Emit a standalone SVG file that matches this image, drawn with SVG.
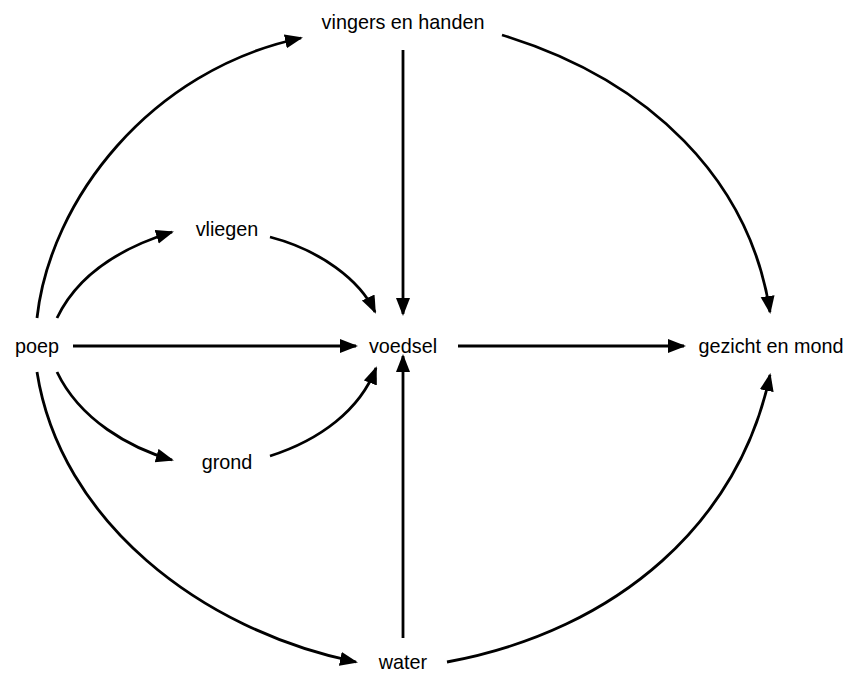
<svg xmlns="http://www.w3.org/2000/svg" width="849" height="674" viewBox="0 0 849 674">
<style>
text{font-family:"Liberation Sans",Arial,sans-serif;font-size:19.8px;fill:#000;text-anchor:middle;dominant-baseline:central}
.e{fill:none;stroke:#000;stroke-width:2.8;marker-end:url(#ah)}
</style>
<defs>
<marker id="ah" markerUnits="userSpaceOnUse" markerWidth="20" markerHeight="16" refX="16" refY="7" orient="auto">
<path d="M0,0 L18,7 L0,14 z" fill="#000"/>
</marker>
</defs>
<rect width="849" height="674" fill="#fff"/>
<g id="connectors">
<path class="e" d="M37,318 C50,200 150,70 301,38"/>
<path class="e" d="M502,35 C650,80 750,180 770,312"/>
<path class="e" d="M57,318 C80,270 130,245 172,232"/>
<path class="e" d="M270,237 C320,250 360,280 375,312"/>
<path class="e" d="M57,372 C80,420 130,448 172,460"/>
<path class="e" d="M270,456 C320,440 360,410 376,368"/>
<path class="e" d="M37,372 C60,520 200,630 356,662"/>
<path class="e" d="M447,662 C620,630 740,520 770,375"/>
<path class="e" d="M73,346 L356,346"/>
<path class="e" d="M458,346 L684,346"/>
<path class="e" d="M403,50 L403,314"/>
<path class="e" d="M403,638 L403,356"/>
</g>
<g id="poep"><text x="37" y="346">poep</text></g>
<g id="vingers"><text x="403" y="22">vingers en handen</text></g>
<g id="vliegen"><text x="227" y="229">vliegen</text></g>
<g id="voedsel"><text x="403" y="346">voedsel</text></g>
<g id="gezicht"><text x="771" y="346">gezicht en mond</text></g>
<g id="grond"><text x="227" y="462">grond</text></g>
<g id="water"><text x="403" y="662">water</text></g>
</svg>
